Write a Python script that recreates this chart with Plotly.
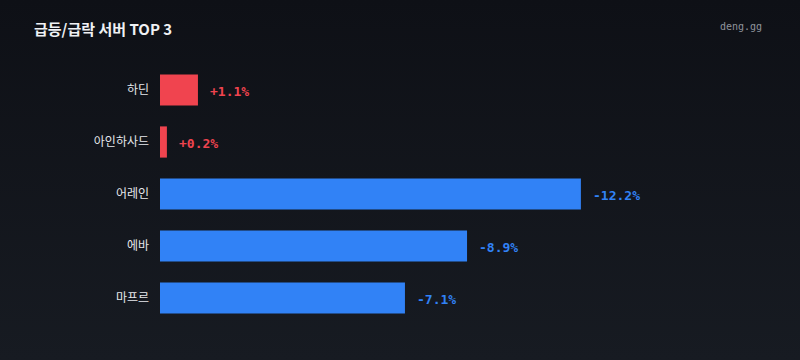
import base64
import plotly.graph_objects as go

servers = ["하딘", "아인하사드", "어레인", "에바", "마프르"]
changes = [1.1, 0.2, -12.2, -8.9, -7.1]

RED = "#f0444f"
BLUE = "#3182f6"
colors = [RED if v > 0 else BLUE for v in changes]
mags = [abs(v) for v in changes]
labels = [f"{'+' if v > 0 else '-'}{abs(v):.1f}%" for v in changes]

W, H = 800, 360
ML, MR, MT, MB = 160, 40, 64, 36
PW, PH = W - ML - MR, H - MT - MB
px_per_unit = 34.5
xmax = PW / px_per_unit

svg = (
    '<svg xmlns="http://www.w3.org/2000/svg" width="800" height="360">'
    '<defs><linearGradient id="g" x1="0" y1="0" x2="0" y2="1">'
    '<stop offset="0" stop-color="#0e1016"/><stop offset="1" stop-color="#171b22"/>'
    '</linearGradient></defs><rect width="800" height="360" fill="url(#g)"/></svg>'
)
bg_uri = "data:image/svg+xml;base64," + base64.b64encode(svg.encode()).decode()

fig = go.Figure()
fig.add_trace(go.Bar(
    x=mags, y=servers, orientation="h",
    marker=dict(color=colors, line=dict(width=0)),
    hoverinfo="skip",
))

for m, s, lab, c in zip(mags, servers, labels, colors):
    fig.add_annotation(
        x=m, y=s, text=f"<b>{lab}</b>", showarrow=False,
        xanchor="left", yanchor="middle", xshift=10, yshift=-1,
        font=dict(family="DejaVu Sans Mono", size=13, color=c),
    )

fig.add_annotation(
    text="<b>급등/급락 서버 TOP 3</b>", xref="paper", yref="paper",
    x=(32 - ML) / PW, y=1 + (MT - 28) / PH,
    xanchor="left", yanchor="middle", showarrow=False,
    font=dict(family="Noto Sans CJK KR", size=15, color="#f0f1f4"),
)
fig.add_annotation(
    text="deng.gg", xref="paper", yref="paper",
    x=(764 - ML) / PW, y=1 + (MT - 26) / PH,
    xanchor="right", yanchor="middle", showarrow=False,
    font=dict(family="DejaVu Sans Mono", size=10, color="#8f939b"),
)

fig.add_layout_image(
    source=bg_uri, xref="paper", yref="paper",
    x=-ML / PW, y=1 + MT / PH, sizex=W / PW, sizey=H / PH,
    xanchor="left", yanchor="top", sizing="stretch", layer="below",
)

fig.update_layout(
    width=W, height=H,
    margin=dict(l=ML, r=MR, t=MT, b=MB),
    paper_bgcolor="#13161c", plot_bgcolor="rgba(0,0,0,0)",
    bargap=0.4, showlegend=False,
    xaxis=dict(range=[0, xmax], visible=False, fixedrange=True),
    yaxis=dict(
        categoryorder="array", categoryarray=servers, autorange="reversed",
        showgrid=False, zeroline=False, showline=False, ticks="",
        ticklabelstandoff=10,
        tickfont=dict(family="Noto Sans CJK KR", size=12, color="#e6e8ec"),
    ),
)

fig.write_html("out.html")
